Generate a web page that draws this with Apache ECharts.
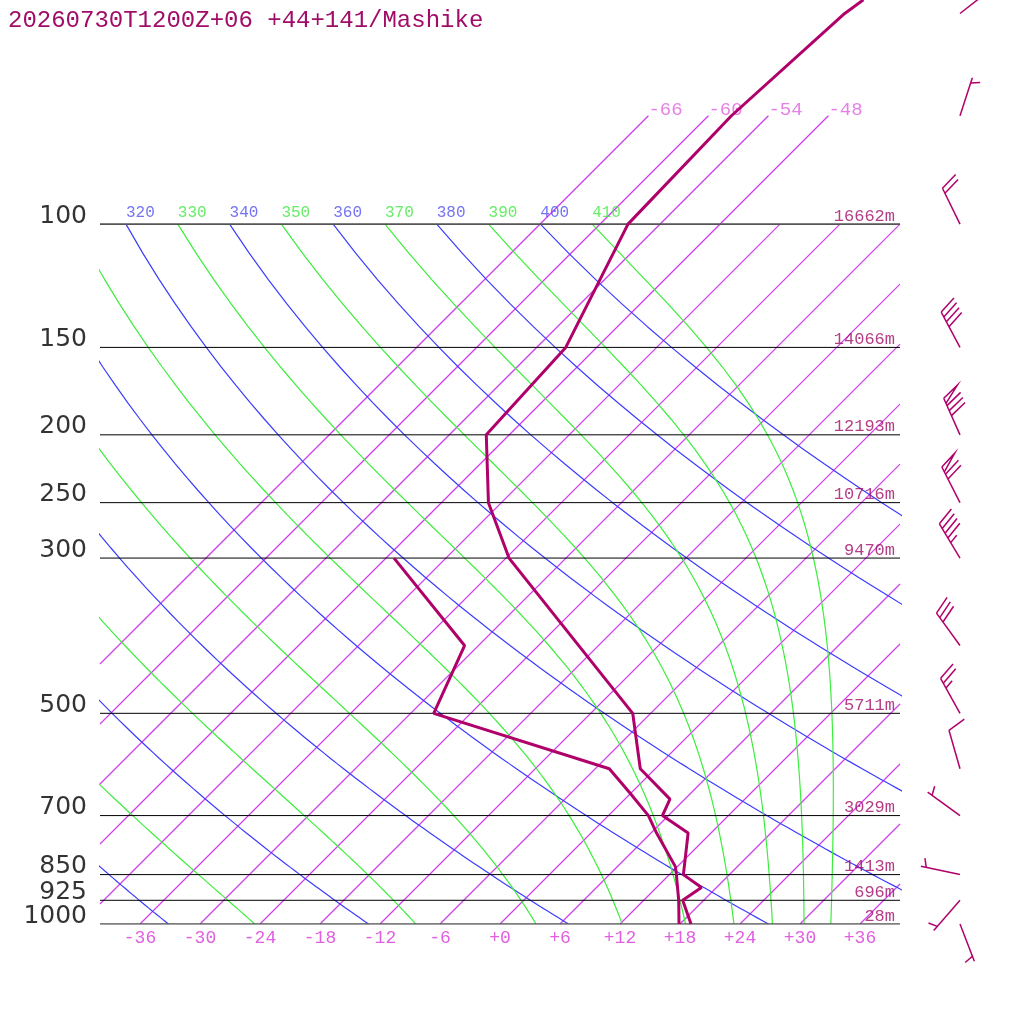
<!DOCTYPE html>
<html>
<head>
<meta charset="utf-8">
<title>Skew-T Mashike</title>
<script src="https://cdn.jsdelivr.net/npm/echarts@6/dist/echarts.min.js"></script>
<style>
html, body { margin: 0; padding: 0; background: #fff; }
#chart { width: 1024px; height: 1024px; }
</style>
</head>
<body>
<div id="chart"></div>
<script>
// sounding
var tempP = [1000, 925, 887, 850, 741, 700, 663, 600, 500, 300, 250, 200, 150, 100, 70, 50, 47.8];
var tempT = [19.1, 15.9, 16.5, 13.4, 9.7, 5.4, 4.5, -1.5, -7.8, -35.7, -43.3, -50.3, -51.1, -57.2, -57.7, -56.6, -56.1];
var dewP = [1000, 925, 850, 828, 742, 700, 650, 600, 500, 400, 300];
var dewT = [17.9, 15.5, 12.7, 11.8, 6.6, 4.0, -0.1, -4.6, -27.7, -31.4, -47.2];

// winds (direction deg, speed kt)
var windP = [50, 70, 100, 150, 200, 250, 300, 400, 500, 600, 700, 850, 925, 1000];
var windDir = [52, 18, 334, 332, 336, 333, 329, 324, 331, 344, 306, 282, 221, 159];
var windKt = [10, 5, 20, 40, 80, 70, 45, 30, 25, 10, 5, 5, 5, 5];

// isobars and their heights
var isobarP = [100, 150, 200, 250, 300, 500, 700, 850, 925, 1000];
var isobarZ = [16662, 14066, 12193, 10716, 9470, 5711, 3029, 1413, 696, 28];

// background lines
var isoT = [-66, -60, -54, -48, -42, -36, -30, -24, -18, -12, -6, 0, 6, 12, 18, 24, 30, 36];
var isoTLabeled = [-66, -60, -54, -48];
var tickT = [-36, -30, -24, -18, -12, -6, 0, 6, 12, 18, 24, 30, 36];
var dryTheta = [240, 260, 280, 300, 320, 340, 360, 380, 400];
var moistTheta = [250, 270, 290, 310, 330, 350, 370, 390, 410];

var title = '20260730T1200Z+06 +44+141/Mashike';

var SKEW = 70 / Math.LN10;   // 45 degree isotherms
var PTOP = 47.83;
var KAPPA = 0.2857;
var mainColor = '#b0006a';
var textColor = '#a00c68';
var isoColor = '#d040ec';
var mono = 'Liberation Mono';

function skewX(t, p) { return t + SKEW * Math.log(1000 / p); }

// isotherm cut to the plot's left and right edges
function isoLine(t, top) {
    var pBot = 1000, pTop = top;
    if (skewX(t, 1000) < -40) pBot = 1000 / Math.exp((-40 - t) / SKEW);
    if (skewX(t, top) > 40) pTop = 1000 / Math.exp((40 - t) / SKEW);
    if (pTop >= pBot) return [];
    return [[skewX(t, pBot), pBot], [skewX(t, pTop), pTop]];
}

function dryLine(theta) {
    var pts = [];
    for (var p = 100; p <= 1000; p += 10) {
        var t = theta * Math.pow(p / 1000, KAPPA) - 273.15;
        pts.push([skewX(t, p), p]);
    }
    return pts;
}

// pseudo-adiabat, integrated down from 100 hPa
function moistLine(theta) {
    var Rd = 287.04, Cp = 1005.7, Lv = 2.501e6, eps = 0.622;
    var p = 100, T = theta * Math.pow(0.1, KAPPA);
    var pts = [[skewX(T - 273.15, p), p]];
    var dp = 0.5;
    while (p < 1000 - 1e-6) {
        var tc = T - 273.15;
        var es = 6.112 * Math.exp(17.67 * tc / (tc + 243.5));
        var rs = eps * es / (p - es);
        var dTdp = (Rd * T + Lv * rs) / (p * (Cp + Lv * Lv * rs * eps / (Rd * T * T)));
        T += dTdp * dp;
        p += dp;
        if (Math.abs(p / 10 - Math.round(p / 10)) < 1e-6) pts.push([skewX(T - 273.15, p), p]);
    }
    return pts;
}

function plainLine(data, color, width, z) {
    return {
        type: 'line', silent: true, symbol: 'none', z: z, clip: true,
        color: color,
        itemStyle: { color: color },
        lineStyle: { color: color, width: width, opacity: 1, type: 'solid' },
        data: data
    };
}

var series = [];

dryTheta.forEach(function (th) {
    series.push(plainLine(dryLine(th), '#3c3cff', 1.2, 2));
});

moistTheta.forEach(function (th) {
    series.push(plainLine(moistLine(th), '#3cee3c', 1.2, 2));
});

isoT.forEach(function (t) {
    var top = isoTLabeled.indexOf(t) >= 0 ? 70 : 100;
    series.push(plainLine(isoLine(t, top), isoColor, 1.3, 1));
});

isobarP.forEach(function (p) {
    var edge = (p === 100 || p === 1000);
    series.push(plainLine([[-40, p], [40, p]], edge ? '#555' : '#000', edge ? 1.6 : 1, 3));
});

// pressure labels on the left
series.push({
    type: 'scatter', symbolSize: 0, silent: true, z: 5,
    data: isobarP.map(function (p) { return [-40, p]; }),
    label: {
        show: true, position: 'left', distance: 13, offset: [0, -8],
        fontFamily: 'DejaVu Sans', fontSize: 25, color: '#000',
        formatter: function (d) { return String(d.value[1]); }
    }
});

// heights on the right
series.push({
    type: 'scatter', symbolSize: 0, silent: true, z: 5,
    data: isobarP.map(function (p, i) { return [40, p, isobarZ[i]]; }),
    label: {
        show: true, position: 'left', distance: 5, offset: [0, -8],
        fontFamily: mono, fontSize: 17, color: textColor,
        formatter: function (d) { return d.value[2] + 'm'; }
    }
});

// adiabat labels at 100 hPa
function adiabatLabels(list, color) {
    var pts = [];
    list.forEach(function (th) {
        var x = skewX(th * Math.pow(0.1, KAPPA) - 273.15, 100);
        if (x > -40) pts.push([x, 100, th]);
    });
    return {
        type: 'scatter', symbolSize: 0, silent: true, z: 5,
        data: pts,
        label: {
            show: true, position: 'right', distance: 0, offset: [0, -11],
            fontFamily: mono, fontSize: 16, color: color,
            formatter: function (d) { return String(d.value[2]); }
        }
    };
}
series.push(adiabatLabels(dryTheta, '#5050f0'));
series.push(adiabatLabels(moistTheta, '#40e840'));

// isotherm labels at 70 hPa
series.push({
    type: 'scatter', symbolSize: 0, silent: true, z: 5,
    data: isoTLabeled.map(function (t) { return [skewX(t, 70), 70, t]; }),
    label: {
        show: true, position: 'right', distance: 0, offset: [0, -6],
        fontFamily: mono, fontSize: 19, color: '#e060e0',
        formatter: function (d) { return String(d.value[2]); }
    }
});

// temperature and dew point
series.push(plainLine(tempP.map(function (p, i) { return [skewX(tempT[i], p), p]; }), mainColor, 3, 6));
series.push(plainLine(dewP.map(function (p, i) { return [skewX(dewT[i], p), p]; }), mainColor, 3, 6));

// wind barbs
function renderBarb(params, api) {
    var base = api.coord([api.value(0), api.value(1)]);
    var dir = api.value(2) * Math.PI / 180;
    var spd = api.value(3);
    var L = 40, full = 19, gap = 5.5;
    var ux = Math.sin(dir), uy = -Math.cos(dir);
    var bd = dir + 70 * Math.PI / 180;
    var bx = Math.sin(bd), by = -Math.cos(bd);
    var tip = [base[0] + ux * L, base[1] + uy * L];
    function at(s) { return [tip[0] - ux * s, tip[1] - uy * s]; }
    var style = { stroke: mainColor, lineWidth: 1.5, fill: null };
    var kids = [{ type: 'line', shape: { x1: base[0], y1: base[1], x2: tip[0], y2: tip[1] }, style: style }];
    var n50 = Math.floor(spd / 50);
    var rest = spd - n50 * 50;
    var n10 = Math.floor(rest / 10);
    var n5 = Math.round((rest - n10 * 10) / 5);
    var s = (n50 === 0 && n10 === 0) ? gap : 0;
    for (var i = 0; i < n50; i++) {
        var a = at(s), b = at(s + gap);
        kids.push({ type: 'polyline', shape: { points: [a, [a[0] + bx * full, a[1] + by * full], b] }, style: style });
        s += gap + 2.5;
    }
    for (i = 0; i < n10; i++) {
        var c = at(s);
        kids.push({ type: 'line', shape: { x1: c[0], y1: c[1], x2: c[0] + bx * full, y2: c[1] + by * full }, style: style });
        s += gap;
    }
    for (i = 0; i < n5; i++) {
        var h = at(s);
        kids.push({ type: 'line', shape: { x1: h[0], y1: h[1], x2: h[0] + bx * full / 2, y2: h[1] + by * full / 2 }, style: style });
        s += gap;
    }
    return { type: 'group', children: kids };
}

series.push({
    type: 'custom', silent: true, z: 7,
    renderItem: renderBarb,
    encode: { x: 0, y: 1 },
    data: windP.map(function (p, i) { return [46, p, windDir[i], windKt[i]]; })
});

var chart = echarts.init(document.getElementById('chart'));
var option = {
    animation: false,
    backgroundColor: '#fff',
    title: {
        text: title, left: 3, top: 4,
        textStyle: { fontFamily: mono, fontSize: 24, fontWeight: 'normal', color: textColor }
    },
    grid: { left: 100, right: 124, top: 0, bottom: 100 },
    xAxis: {
        type: 'value', min: -40, max: 40,
        axisLine: { show: false }, axisTick: { show: false }, splitLine: { show: false },
        axisLabel: {
            customValues: tickT, margin: 5,
            fontFamily: mono, fontSize: 18, color: '#e060e0',
            formatter: function (v) { return v >= 0 ? '+' + v : String(v); }
        }
    },
    yAxis: {
        type: 'log', inverse: true, min: PTOP, max: 1000,
        show: false, splitLine: { show: false }
    },
    series: series
};
chart.setOption(option);
</script>
</body>
</html>
